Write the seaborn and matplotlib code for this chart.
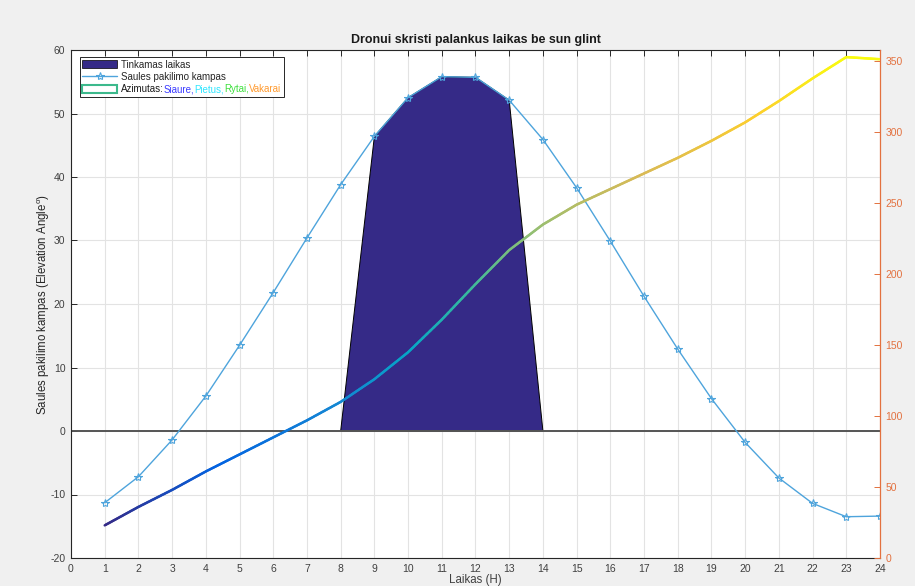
import numpy as np
import pandas as pd
import matplotlib
matplotlib.use("Agg")
import matplotlib.pyplot as plt
import seaborn as sns
from matplotlib.collections import LineCollection
from matplotlib.colors import LinearSegmentedColormap, Normalize
from matplotlib.patches import Patch
from matplotlib.lines import Line2D
from matplotlib.offsetbox import TextArea, HPacker

# ---------------- data ----------------
hours = list(range(1, 25))
elevation = [-11.3, -7.2, -1.4, 5.5, 13.5, 21.8, 30.4, 38.8, 46.4, 52.5, 55.8, 55.7,
             52.1, 45.9, 38.3, 29.9, 21.2, 12.9, 5.1, -1.8, -7.4, -11.4, -13.5, -13.4]
azimuth = [23, 36, 48, 61, 73, 85, 97, 110, 126, 145, 168, 193,
           217, 235, 249, 260, 271, 282, 294, 307, 322, 338, 353, 351.5]
suitable_start, suitable_end = 8, 14
x_ticks = list(range(0, 25))
y_ticks = list(range(-20, 61, 10))
az_ticks = list(range(0, 351, 50))
legend_labels = ["Tinkamas laikas", "Saules pakilimo kampas"]
azimuth_prefix = "Azimutas:"
direction_words = ["Siaure,", "Pietus,", "Rytai,", "Vakarai"]
direction_colors = ["#3b3bff", "#2ee6ff", "#3fe03f", "#ff9a2e"]

title = "Dronui skristi palankus laikas be sun glint"
xlabel = "Laikas (H)"
ylabel = "Saules pakilimo kampas (Elevation Angle$^{o}$)"
ylabel2 = "Saules azimutas"

# ---------------- style ----------------
sns.set_style("white")
plt.rcParams["font.family"] = ["Liberation Sans", "DejaVu Sans"]
plt.rcParams["mathtext.fontset"] = "custom"
plt.rcParams["mathtext.rm"] = "Liberation Sans"
plt.rcParams["mathtext.it"] = "Liberation Sans"
plt.rcParams["axes.unicode_minus"] = False

parula = LinearSegmentedColormap.from_list(
    "parula", ["#352a87", "#0363e1", "#1485d4", "#06a7c6", "#38b99e",
               "#92bf73", "#d9ba56", "#fcce2e", "#f9fb0e"])
orange = "#e3713f"
fill_color = "#352a87"
elev_color = "#4ea4dc"

fig = plt.figure(figsize=(9.15, 5.86), dpi=100, facecolor="#f0f0f0")
ax = fig.add_axes([71 / 915, 1 - 558 / 586, 809 / 915, 508 / 586])
ax.set_facecolor("white")

ax.set_xticks(x_ticks)
ax.set_yticks(y_ticks)
ax.grid(True, color="#e3e3e3", lw=0.8)
ax.set_axisbelow(True)

df = pd.DataFrame({"hour": hours, "elev": elevation, "az": azimuth})
sub = df[(df.hour > suitable_start) & (df.hour < suitable_end)]
px = [suitable_start] + sub.hour.tolist() + [suitable_end]
py = [0] + sub.elev.tolist() + [0]
ax.fill(px, py, facecolor=fill_color, edgecolor="black", lw=0.7, zorder=2)

ax.axhline(0, color="#555555", lw=1.4, zorder=2.5)

sns.lineplot(data=df, x="hour", y="elev", ax=ax, color=elev_color, lw=1.0,
             marker="*", markersize=6, markerfacecolor="none",
             markeredgecolor=elev_color, markeredgewidth=0.8, zorder=4)

ax.set_xlim(0, 24)
ax.set_ylim(-20, 60)
ax.set_xlabel(xlabel, fontsize=8.3, color="#404040", labelpad=0.5)
ax.set_ylabel(ylabel, fontsize=8.3, color="#262626", labelpad=-1.5)
ax.set_title(title, fontsize=8.9, fontweight="bold", pad=5, color="#1a1a1a")
ax.tick_params(axis="both", direction="in", length=4, width=0.7, colors="#262626",
               labelsize=7.5, labelcolor="#404040", top=True, right=False, pad=4)
for s in ["left", "top", "bottom"]:
    ax.spines[s].set_color("#262626")
    ax.spines[s].set_linewidth(0.8)
ax.spines["right"].set_visible(False)

ax2 = ax.twinx()
ax2.set_ylim(0, 358)
ax2.set_yticks(az_ticks)
ax2.tick_params(axis="y", direction="in", length=4, width=0.7, colors=orange,
                labelsize=7.5, pad=4)
for s in ["left", "top", "bottom"]:
    ax2.spines[s].set_visible(False)
ax2.spines["right"].set_color(orange)
ax2.spines["right"].set_linewidth(0.9)
ax2.set_ylabel(ylabel2, color=orange, fontsize=8, labelpad=10)

segs, vals = [], []
for i in range(len(hours) - 1):
    xs = np.linspace(hours[i], hours[i + 1], 25)
    ys = np.linspace(azimuth[i], azimuth[i + 1], 25)
    for j in range(len(xs) - 1):
        segs.append([(xs[j], ys[j]), (xs[j + 1], ys[j + 1])])
        vals.append((ys[j] + ys[j + 1]) / 2)
lc = LineCollection(segs, cmap=parula, norm=Normalize(min(azimuth), max(azimuth)),
                    linewidths=1.8, capstyle="round", zorder=3)
lc.set_array(np.array(vals))
ax2.add_collection(lc)
ax2.set_xlim(0, 24)

# legend
handles = [
    Patch(facecolor=fill_color, edgecolor="black", lw=0.5),
    Line2D([], [], color=elev_color, lw=1.0, marker="*", markersize=6,
           markerfacecolor="none", markeredgecolor=elev_color, markeredgewidth=0.8),
    Patch(facecolor="white", edgecolor="#3cb98c", lw=1.5),
]
leg = ax2.legend(handles, legend_labels + [azimuth_prefix], loc="upper left",
                 bbox_to_anchor=(0.011, 0.986), borderaxespad=0, fontsize=7,
                 frameon=True, fancybox=False, edgecolor="#262626",
                 handlelength=3.6, handleheight=0.9, labelspacing=0.25,
                 borderpad=0.25, handletextpad=0.4)
leg.get_frame().set_linewidth(0.7)
leg.get_frame().set_facecolor("white")
leg.get_frame().set_alpha(1)

# replace third label by a multi-coloured text row inside the legend
target = leg.get_texts()[2]
done = False
for column in leg._legend_handle_box.get_children():
    for row in column.get_children():
        ch = row.get_children()
        if len(ch) == 2 and isinstance(ch[1], TextArea) and ch[1]._text is target:
            areas = [TextArea(azimuth_prefix,
                              textprops=dict(color="#1a1a1a", fontsize=7))]
            areas += [TextArea(w, textprops=dict(color=c, fontsize=7))
                      for w, c in zip(direction_words, direction_colors)]
            box = HPacker(children=areas, sep=0, pad=0, align="baseline")
            box.set_figure(fig)
            ch[1] = box
            done = True
target.set_visible(False)

fig.savefig("out.png", dpi=100, facecolor=fig.get_facecolor())
